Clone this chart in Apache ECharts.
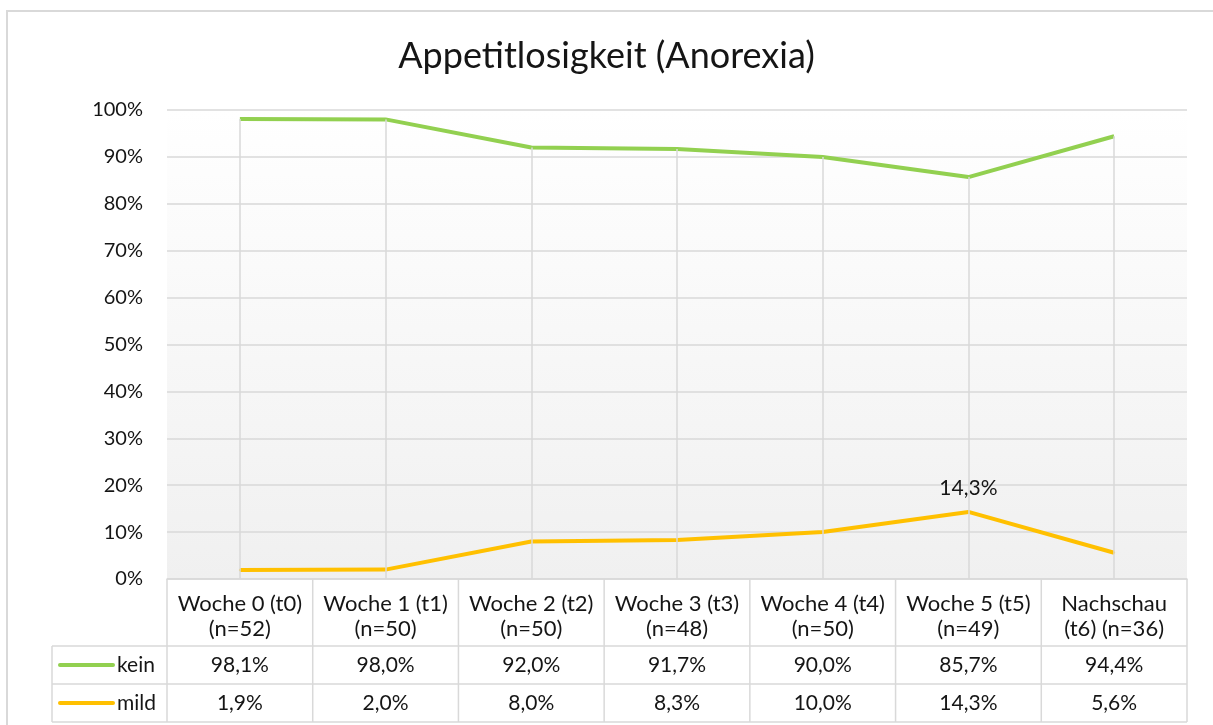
<!DOCTYPE html>
<html>
<head>
<meta charset="utf-8">
<script src="https://cdn.jsdelivr.net/npm/echarts@6/dist/echarts.min.js"></script>
<style>
  html, body { margin: 0; padding: 0; background: #fff; }
  #main { width: 1213px; height: 725px; }
</style>
</head>
<body>
<div id="main"></div>
<script>
// data
var categories = ['Woche 0 (t0)\n(n=52)', 'Woche 1 (t1)\n(n=50)', 'Woche 2 (t2)\n(n=50)',
                  'Woche 3 (t3)\n(n=48)', 'Woche 4 (t4)\n(n=50)', 'Woche 5 (t5)\n(n=49)',
                  'Nachschau\n(t6) (n=36)'];
var kein = [98.1, 98.0, 92.0, 91.7, 90.0, 85.7, 94.4];
var mild = [1.9, 2.0, 8.0, 8.3, 10.0, 14.3, 5.6];
var labelledMild = [5]; // only this point has a data label
var yTicks = [0, 10, 20, 30, 40, 50, 60, 70, 80, 90, 100];

var FONT = 'Lato, sans-serif';
var FS = 21;
var GREEN = '#92d050', GOLD = '#ffc000', GRID = '#d9d9d9', TXT = '#151515';

// plot area in pixels
var G = {left: 167, right: 26, top: 110, bottom: 146};
var W = 1213, H = 725;
var plotW = W - G.left - G.right;
var cw = plotW / categories.length;
var axisY = H - G.bottom;
var row1 = 646, row2 = 684, row3 = 722, legX = 52;

function fmt(v) { return v.toFixed(1).replace('.', ',') + '%'; }

var myChart = echarts.init(document.getElementById('main'));

// table drawn as graphic elements
var graphics = [];
graphics.push({type: 'rect', shape: {x: 7, y: 11, width: 1230, height: 740},
  style: {fill: 'none', stroke: GRID, lineWidth: 2}, z: 0, silent: true});
function hline(x1, x2, y) {
  graphics.push({type: 'line', shape: {x1: x1, y1: y, x2: x2, y2: y},
    style: {stroke: GRID, lineWidth: 1.5}, z: 10, silent: true});
}
function vline(x, y1, y2) {
  graphics.push({type: 'line', shape: {x1: x, y1: y1, x2: x, y2: y2},
    style: {stroke: GRID, lineWidth: 1.5}, z: 10, silent: true});
}
hline(legX, G.left + plotW, row1);
hline(legX, G.left + plotW, row2);
hline(legX, G.left + plotW, row3);
vline(legX, row1, row3);
for (var k = 0; k <= categories.length; k++) {
  vline(G.left + k * cw, axisY, row3);
}
var rows = [{name: 'kein', color: GREEN, vals: kein, y: (row1 + row2) / 2},
            {name: 'mild', color: GOLD, vals: mild, y: (row2 + row3) / 2}];
rows.forEach(function (r) {
  graphics.push({type: 'line', shape: {x1: 60, y1: r.y, x2: 113, y2: r.y},
    style: {stroke: r.color, lineWidth: 4, lineCap: 'round'}, z: 11, silent: true});
  graphics.push({type: 'text', x: 117, y: r.y, z: 11, silent: true,
    style: {text: r.name, font: FS + 'px ' + FONT, fill: TXT, textAlign: 'left', textVerticalAlign: 'middle'}});
  r.vals.forEach(function (v, i) {
    graphics.push({type: 'text', x: G.left + (i + 0.5) * cw, y: r.y, z: 11, silent: true,
      style: {text: fmt(v), font: FS + 'px ' + FONT, fill: TXT, textAlign: 'center', textVerticalAlign: 'middle'}});
  });
});

var option = {
  backgroundColor: '#fff',
  animation: false,
  title: {
    text: 'Appetitlosigkeit (Anorexia)',
    left: 'center',
    top: 33,
    textStyle: {fontFamily: FONT, fontSize: 36, fontWeight: 'normal', color: TXT}
  },
  grid: {
    left: G.left, right: G.right, top: G.top, bottom: G.bottom,
    show: true, borderWidth: 0,
    backgroundColor: new echarts.graphic.LinearGradient(0, 0, 0, 1, [
      {offset: 0, color: '#ffffff'}, {offset: 1, color: '#f0f0f0'}
    ])
  },
  xAxis: {
    type: 'category',
    data: categories,
    boundaryGap: true,
    axisLine: {lineStyle: {color: GRID, width: 1.5}},
    axisTick: {show: false},
    axisLabel: {fontFamily: FONT, fontSize: 22, color: TXT, lineHeight: 25, margin: 12, interval: 0, align: 'center'}
  },
  yAxis: {
    type: 'value',
    min: yTicks[0], max: yTicks[yTicks.length - 1], interval: yTicks[1] - yTicks[0],
    axisLine: {show: false},
    axisTick: {show: false},
    splitLine: {lineStyle: {color: GRID, width: 1.5}},
    axisLabel: {fontFamily: FONT, fontSize: 20, color: TXT, margin: 24, formatter: '{value}%'}
  },
  series: [
    {
      // drop lines from the top series down to the axis
      type: 'line', data: kein, z: 1, symbol: 'none', silent: true,
      lineStyle: {opacity: 0},
      markLine: {
        silent: true, symbol: 'none', label: {show: false},
        lineStyle: {color: GRID, width: 1.5, type: 'solid'},
        data: kein.map(function (v, i) { return [{coord: [i, v]}, {coord: [i, 0]}]; })
      }
    },
    {
      name: 'kein', type: 'line', data: kein, z: 3,
      symbol: 'none', lineStyle: {color: GREEN, width: 4}, itemStyle: {color: GREEN}
    },
    {
      name: 'mild', type: 'line', z: 3,
      data: mild.map(function (v, i) {
        return labelledMild.indexOf(i) >= 0 ? {value: v, label: {show: true}} : v;
      }),
      symbol: 'circle', symbolSize: 2, lineStyle: {color: GOLD, width: 4}, itemStyle: {color: GOLD},
      label: {show: false, position: 'top', distance: 12, fontFamily: FONT, fontSize: FS, color: TXT,
        formatter: function (p) { return fmt(p.value); }}
    }
  ],
  graphic: graphics
};
myChart.setOption(option);
</script>
</body>
</html>
